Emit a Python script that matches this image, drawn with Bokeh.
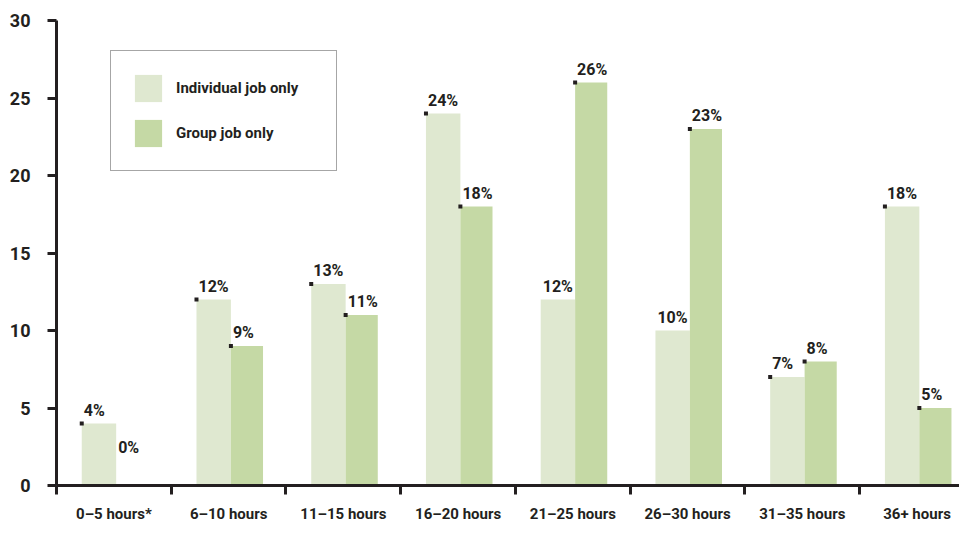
import numpy as np
from bokeh.plotting import figure
from bokeh.models import FixedTicker, Legend, LegendItem, Range1d, ColumnDataSource
from bokeh.core.properties import value
from bokeh.embed import file_html
from bokeh.resources import INLINE

categories = ["0–5 hours*", "6–10 hours", "11–15 hours", "16–20 hours",
              "21–25 hours", "26–30 hours", "31–35 hours", "36+ hours"]
individual = [4, 12, 13, 24, 12, 10, 7, 18]
group = [0, 9, 11, 18, 26, 23, 8, 5]
individual_marked = [True, True, True, True, False, False, True, True]
group_marked = [False, True, True, True, True, True, True, True]
y_ticks = [0, 5, 10, 15, 20, 25, 30]

FONT = "Roboto"
INK = "#231f20"
LIGHT = "#dfe8d0"
DARK = "#c5d9a5"

idx = np.arange(len(categories))
ind_w, grp_w = 0.30, 0.28
ind_x = idx + 0.5 - 0.13
grp_x = idx + 0.5 + 0.16

p = figure(width=959, height=525, output_backend="svg", toolbar_location=None,
           x_range=Range1d(0, 7.87), y_range=Range1d(0, 30),
           min_border_left=56, min_border_right=0, min_border_top=20, min_border_bottom=30)
p.outline_line_color = None
p.grid.visible = False
p.background_fill_color = "white"

r1 = p.vbar(x=ind_x, top=individual, width=ind_w, bottom=0, fill_color=LIGHT, line_color=None)
r2 = p.vbar(x=grp_x, top=group, width=grp_w, bottom=0, fill_color=DARK, line_color=None)

def markers_and_labels(xc, w, vals, marked):
    left = xc - w / 2
    vals = np.array(vals, dtype=float)
    m = np.array(marked)
    p.scatter(x=left[m], y=vals[m], marker="square", size=4, fill_color=INK, line_color=None)
    src = ColumnDataSource(dict(x=left, y=np.maximum(vals, 1.6), t=[f"{int(v)}%" for v in vals]))
    p.text(x="x", y="y", text="t", source=src, x_offset=2, y_offset=-4,
           text_baseline="bottom", text_align="left", text_font=value(FONT),
           text_font_style="bold", text_font_size="16px", text_color=INK)

markers_and_labels(ind_x, ind_w, individual, individual_marked)
markers_and_labels(grp_x, grp_w, group, group_marked)

# y axis
yax = p.yaxis[0]
yax.ticker = FixedTicker(ticks=y_ticks)
yax.axis_line_width = 3
yax.axis_line_color = INK
yax.major_tick_line_width = 3
yax.major_tick_line_color = INK
yax.major_tick_out = 9
yax.major_tick_in = 0
yax.minor_tick_line_color = None
yax.major_label_standoff = 17
yax.major_label_text_font = FONT
yax.major_label_text_font_style = "bold"
yax.major_label_text_font_size = "18px"
yax.major_label_text_color = INK

# x axis
xax = p.xaxis[0]
centers = list(idx + 0.5)
xax.ticker = FixedTicker(ticks=centers, minor_ticks=list(idx.astype(float)))
xax.major_label_overrides = {float(c): lab for c, lab in zip(centers, categories)}
xax.axis_line_width = 3
xax.axis_line_color = INK
xax.major_tick_line_color = None
xax.major_tick_out = 0
xax.major_tick_in = 0
xax.minor_tick_line_width = 3
xax.minor_tick_line_color = INK
xax.minor_tick_out = 9
xax.minor_tick_in = 0
xax.major_label_standoff = 10
xax.major_label_text_font = FONT
xax.major_label_text_font_style = "bold"
xax.major_label_text_font_size = "15px"
xax.major_label_text_color = INK

legend = Legend(items=[LegendItem(label="Individual job only", renderers=[r1]),
                       LegendItem(label="Group job only", renderers=[r2])],
                location=(54, 314), orientation="vertical",
                glyph_width=34, glyph_height=34, spacing=11, padding=20, margin=0,
                label_standoff=11, label_width=140, label_height=34,
                label_text_font=FONT, label_text_font_style="bold",
                label_text_font_size="15px", label_text_color=INK,
                border_line_color="#4d4d4d", border_line_width=1.2,
                background_fill_color="white", background_fill_alpha=1)
p.add_layout(legend, "center")

open("out.html", "w").write(file_html(p, INLINE))
